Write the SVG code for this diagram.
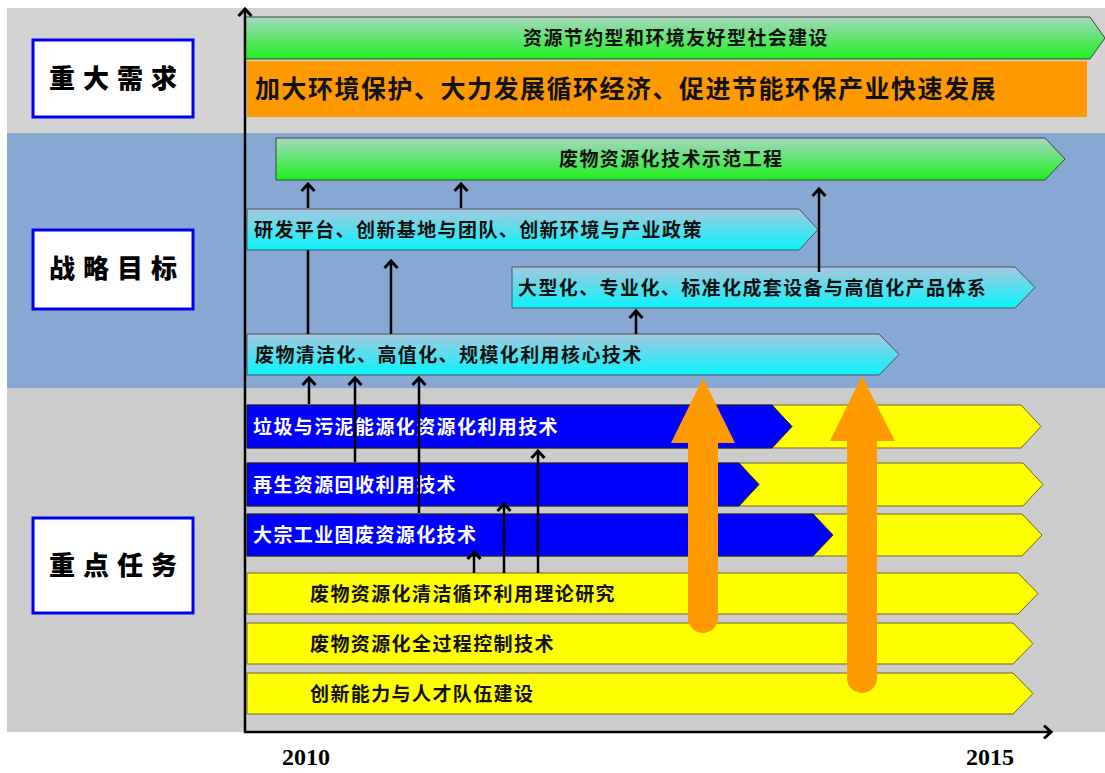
<svg xmlns="http://www.w3.org/2000/svg" width="1105" height="773" viewBox="0 0 1105 773">
<defs>
<linearGradient id="gGreen" x1="0" y1="0" x2="0" y2="1">
<stop offset="0" stop-color="#a6d8c0"/><stop offset="1" stop-color="#1ef01e"/>
</linearGradient>
<linearGradient id="gCyan" x1="0" y1="0" x2="0" y2="1">
<stop offset="0" stop-color="#a8c8e0"/><stop offset="1" stop-color="#08f4fc"/>
</linearGradient>
<marker id="ah" viewBox="-2 -8 11 16" markerWidth="11" markerHeight="16" refX="7" refY="0" orient="auto" markerUnits="userSpaceOnUse">
<path d="M0,-6.5 L7,0 L0,6.5" fill="none" stroke="#000" stroke-width="3"/>
</marker>
<style>
.lbl{fill:#fff;stroke:#0000ee;stroke-width:3}
.lt{font-family:"Noto Sans CJK SC",sans-serif;font-weight:900;font-size:26px;letter-spacing:8px;fill:#000;text-anchor:middle}
.bt{font-family:"Noto Sans CJK SC",sans-serif;font-weight:bold;font-size:19px;letter-spacing:1.4px;fill:#111}
.wt{fill:#fff}
.green{fill:url(#gGreen);stroke:#404040;stroke-width:1}
.cyan{fill:url(#gCyan);stroke:#505050;stroke-width:1}
.blue{fill:#0000ff;stroke:#222;stroke-width:1}
.yel{fill:#ffff00;stroke:#6e6430;stroke-width:1}
.con{stroke:#000;stroke-width:2.5;fill:none}
.con.a{marker-end:url(#ah)}
.big{fill:#ff9900}
.yr{font-family:"Liberation Serif",serif;font-weight:bold;font-size:24px;fill:#000}
</style>
</defs>

<g id="background">
<rect x="7" y="8" width="1098" height="125" fill="#d3d3d3"/>
<rect x="7" y="133" width="1098" height="255" fill="#88a8d4"/>
<rect x="7" y="388" width="1098" height="344" fill="#cccccc"/>
</g>

<g id="label-demand"><rect class="lbl" x="33" y="40" width="160" height="77"/><text class="lt" x="117" y="88">重大需求</text></g>
<g id="label-goal"><rect class="lbl" x="33" y="230" width="160" height="79"/><text class="lt" x="117" y="278">战略目标</text></g>
<g id="label-task"><rect class="lbl" x="33" y="518" width="160" height="95"/><text class="lt" x="117" y="575">重点任务</text></g>

<g id="bar-society"><path class="green" d="M245,17 L1090,17 L1105,38 L1090,59 L245,59 Z"/><text class="bt" x="523" y="45">资源节约型和环境友好型社会建设</text></g>
<g id="bar-protect"><rect x="247" y="61" width="840" height="56" fill="#ff9900"/><text class="bt" x="255" y="98" style="font-size:25px;letter-spacing:1.5px">加大环境保护、大力发展循环经济、促进节能环保产业快速发展</text></g>
<g id="bar-demo"><path class="green" d="M276,138 L1045,138 L1065,159 L1045,180 L276,180 Z"/><text class="bt" x="559" y="166">废物资源化技术示范工程</text></g>
<g id="bar-platform"><path class="cyan" d="M247,209 L799,209 L818,229.5 L799,250 L247,250 Z"/><text class="bt" x="254" y="236.5">研发平台、创新基地与团队、创新环境与产业政策</text></g>
<g id="bar-equipment"><path class="cyan" d="M512,267 L1015,267 L1035,287.5 L1015,308 L512,308 Z"/><text class="bt" x="518" y="294.5">大型化、专业化、标准化成套设备与高值化产品体系</text></g>
<g id="bar-core"><path class="cyan" d="M247,334 L879,334 L899,354.5 L879,375 L247,375 Z"/><text class="bt" x="255" y="361.5">废物清洁化、高值化、规模化利用核心技术</text></g>

<g id="task-garbage"><path class="yel" d="M247,405 L1021,405 L1041,426.5 L1021,448 L247,448 Z"/><path class="blue" d="M247,405 L772,405 L792,426.5 L772,448 L247,448 Z"/><text class="bt wt" x="253" y="433.5">垃圾与污泥能源化资源化利用技术</text></g>
<g id="task-recycle"><path class="yel" d="M247,463 L1023,463 L1043,484.5 L1023,506 L247,506 Z"/><path class="blue" d="M247,463 L739,463 L759,484.5 L739,506 L247,506 Z"/><text class="bt wt" x="253" y="491.5">再生资源回收利用技术</text></g>
<g id="task-industrial"><path class="yel" d="M247,514 L1022,514 L1042,535 L1022,556 L247,556 Z"/><path class="blue" d="M247,514 L813,514 L833,535 L813,556 L247,556 Z"/><text class="bt wt" x="253" y="542">大宗工业固废资源化技术</text></g>
<g id="task-theory"><path class="yel" d="M247,573 L1018,573 L1038,593.5 L1018,614 L247,614 Z"/><text class="bt" x="310" y="600.5">废物资源化清洁循环利用理论研究</text></g>
<g id="task-control"><path class="yel" d="M247,623 L1013,623 L1033,643.5 L1013,664 L247,664 Z"/><text class="bt" x="310" y="650.5">废物资源化全过程控制技术</text></g>
<g id="task-talent"><path class="yel" d="M247,673 L1013,673 L1033,693.5 L1013,714 L247,714 Z"/><text class="bt" x="310" y="700.5">创新能力与人才队伍建设</text></g>

<g id="connectors">
<line class="con a" x1="308" y1="208" x2="308" y2="184"/>
<line class="con a" x1="461" y1="208" x2="461" y2="184"/>
<line class="con" x1="308" y1="334" x2="308" y2="250"/>
<line class="con a" x1="391" y1="334" x2="391" y2="261"/>
<line class="con a" x1="636" y1="334" x2="636" y2="311"/>
<line class="con a" x1="819" y1="272" x2="819" y2="189"/>
<line class="con a" x1="309" y1="404" x2="309" y2="378"/>
<line class="con a" x1="355" y1="462" x2="355" y2="378"/>
<line class="con a" x1="419" y1="513" x2="419" y2="378"/>
<line class="con a" x1="538" y1="573" x2="538" y2="451"/>
<line class="con a" x1="504" y1="573" x2="504" y2="504"/>
<line class="con a" x1="474" y1="573" x2="474" y2="552"/>
<path class="big" d="M703,378 L735,443 L718,443 L718,618 A15,15 0 0 1 688,618 L688,443 L671,443 Z"/>
<path class="big" d="M862,376 L895,441 L877,441 L877,678 A15,15 0 0 1 847,678 L847,441 L830,441 Z"/>
</g>

<g id="axes">
<line class="con a" x1="245" y1="733" x2="245" y2="9"/>
<line class="con a" x1="244" y1="732" x2="1051" y2="732"/>
</g>
<g id="years">
<text class="yr" x="282" y="765">2010</text>
<text class="yr" x="966" y="765">2015</text>
</g>
</svg>
